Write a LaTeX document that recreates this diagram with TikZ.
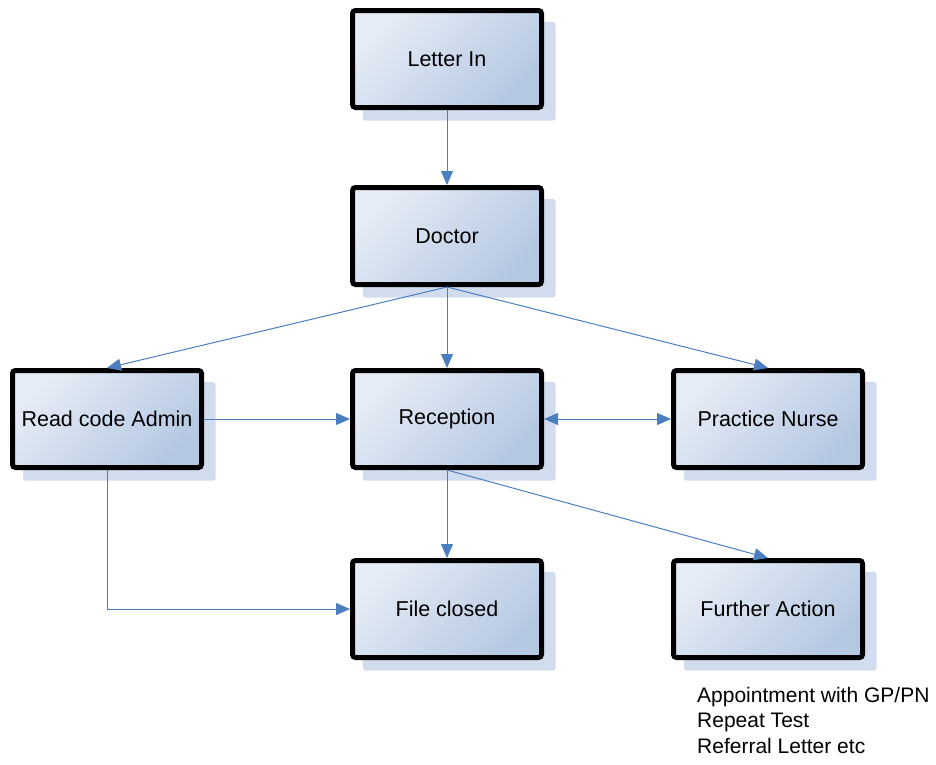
\documentclass[tikz,border=0pt]{standalone}
\usepackage{fontspec}
\setmainfont{Liberation Sans}
\usetikzlibrary{arrows.meta,shadows}
\definecolor{arr}{HTML}{4A7EBF}
\definecolor{ftop}{HTML}{E6ECF6}
\definecolor{fbot}{HTML}{B5C8E2}
\definecolor{shd}{HTML}{D2DCEF}
\begin{document}
\begin{tikzpicture}[x=1pt,y=-1pt,
  box/.style={draw=black, line width=5pt, rounded corners=3pt,
    minimum width=189pt, minimum height=97pt, inner sep=0pt,
    shading=axis, top color=ftop, bottom color=fbot, shading angle=45,
    font=\fontsize{21.5}{25}\selectfont,
    general shadow={shadow xshift=12pt, shadow yshift=-12pt, fill=shd, draw=none, shadow scale=1.02}},
  con/.style={draw=arr, line width=1pt, -{Triangle[length=14pt,width=12pt]}},
  con2/.style={draw=arr, line width=1pt, {Triangle[length=14pt,width=12pt]}-{Triangle[length=14pt,width=12pt]}}]
\useasboundingbox (0,0) rectangle (936,764);
\node[box] (letter) at (447,59) {Letter In};
\node[box] (doctor) at (447,236) {Doctor};
\node[box] (admin) at (107,419) {Read code Admin};
\node[box] (recep) at (447,419) {Reception};
\node[box] (nurse) at (768,419) {Practice Nurse};
\node[box] (closed) at (447,609) {File closed};
\node[box] (further) at (768,609) {Further Action};
\node[anchor=north west, align=left, inner sep=0pt, font=\fontsize{21}{25.5}\selectfont] (notes) at (697,687)
  {Appointment with GP/PN\\Repeat Test\\Referral Letter etc};
\draw[con] (letter.south) -- (doctor.north);
\draw[con] (doctor.south) -- (admin.north);
\draw[con] (doctor.south) -- (recep.north);
\draw[con] (doctor.south) -- (nurse.north);
\draw[con] (admin.east) -- (recep.west);
\draw[con2] (recep.east) -- (nurse.west);
\draw[con] (recep.south) -- (closed.north);
\draw[con] (recep.south) -- (further.north);
\draw[con] (admin.south) |- (closed.west);
\end{tikzpicture}
\end{document}
